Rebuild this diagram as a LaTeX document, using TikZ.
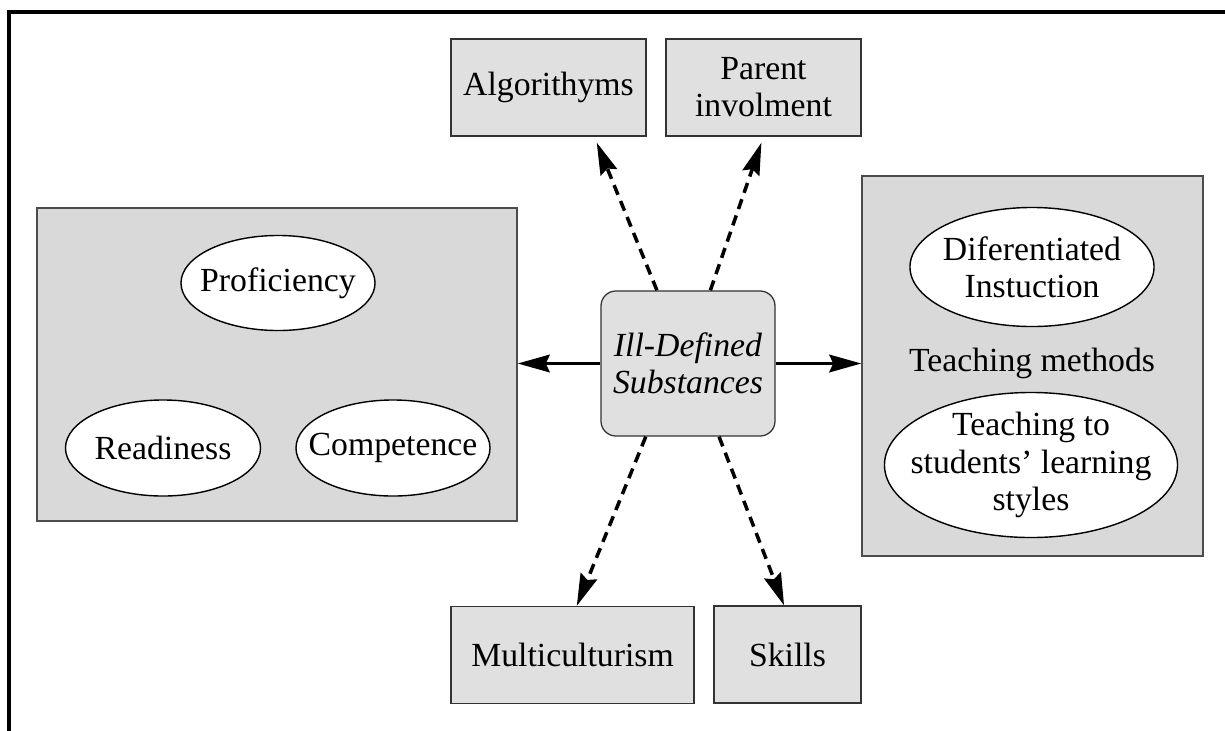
\documentclass[tikz,border=0pt]{standalone}
\usepackage{fontspec}
\setmainfont{Liberation Serif}
\usetikzlibrary{arrows.meta, positioning}
\newcommand{\bigfont}{\fontsize{24}{26.4}\selectfont}

\begin{document}
\begin{tikzpicture}[x=0.025cm, y=-0.025cm, font=\bigfont]
\tikzset{
  box/.style={draw=black!80, fill=black!12, line width=0.9pt, minimum height=2.425cm, align=center},
  group/.style={draw=black!70, fill=black!15, line width=0.9pt},
  oval/.style={draw=black, fill=white, line width=1pt},
  link/.style={line width=2.5pt, -{Stealth[length=0.8cm, width=0.44cm, inset=0.1cm]}},
  dlink/.style={link, dash pattern=on 0.26cm off 0.17cm}
}

\useasboundingbox (0,0) rectangle (1225,731);
\draw[line width=2.4pt] (9,12) rectangle (1300,800);

% the two groups
\node[group, minimum width=12cm, minimum height=7.825cm] (lgrp) at (277,364.5) {};
\node[group, minimum width=8.525cm, minimum height=9.5cm] (rgrp) at (1032.5,366) {};

\filldraw[oval] (278,283) ellipse [x radius=2.425cm, y radius=1.1875cm];
\filldraw[oval] (163,448) ellipse [x radius=2.4375cm, y radius=1.2cm];
\filldraw[oval] (393,448) ellipse [x radius=2.425cm, y radius=1.2cm];
\node (prof) at (278,283) {Proficiency};
\node (ready) at (163,448) {Readiness};
\node (comp) at (393,448) {Competence};

\filldraw[oval] (1032,267) ellipse [x radius=3.05cm, y radius=1.4875cm];
\filldraw[oval] (1031,465) ellipse [x radius=3.6625cm, y radius=1.8125cm];
\node[align=center] (diff) at (1032,267) {Diferentiated\\Instuction};
\node (tmeth) at (1032,363) {Teaching methods};
\node[align=center] (tstyle) at (1031,465) {Teaching to\\students’ learning\\styles};

% centre and outer boxes
\node[box, rounded corners=0.375cm, minimum width=4.35cm, minimum height=3.625cm, font=\bigfont\itshape] (ctr) at (688,363.5) {Ill-Defined\\Substances};
\node[box, minimum width=4.875cm] (algo) at (548.5,87.5) {Algorithyms};
\node[box, minimum width=4.875cm] (par) at (763.5,87.5) {Parent\\involment};
\node[box, minimum width=6.075cm] (multi) at (572.5,655) {Multiculturism};
\node[box, minimum width=3.675cm] (skill) at (787.5,654.5) {Skills};

\draw[link] (ctr.west) -- (ctr.west -| lgrp.east);
\draw[link] (ctr.east) -- (ctr.east -| rgrp.west);
\draw[dlink, shorten >=0.16cm] (ctr.113) -- (algo.-47);
\draw[dlink, shorten >=0.16cm] (ctr.73) -- (par.south);
\draw[dlink] (ctr.240) -- (multi.85);
\draw[dlink] (ctr.293) -- (skill.94);
\end{tikzpicture}
\end{document}
